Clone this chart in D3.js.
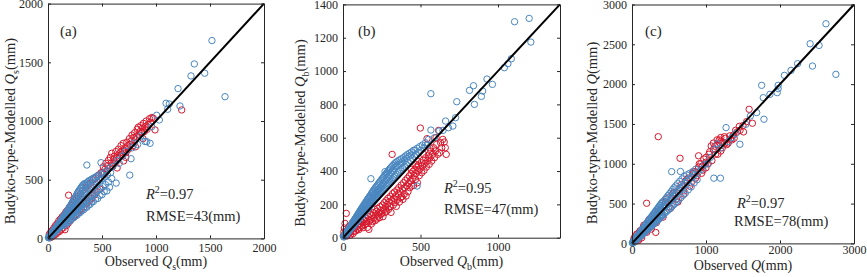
<!DOCTYPE html>
<html>
<head>
<meta charset="utf-8">
<script src="https://cdn.jsdelivr.net/npm/d3@7"></script>
<style>
  body { margin: 0; background: #fff; }
  svg { display: block; }
  text { font-family: "Liberation Serif", "Times New Roman", serif; fill: #262626; }
</style>
</head>
<body>
<svg id="chart" width="867" height="277"></svg>
<script>
// observed vs modelled (mm)
const aRed = [[12,35],[18,5],[26,55],[33,12],[40,70],[47,22],[55,90],[62,30],[70,110],[78,40],[85,125],[92,55],[100,150],[108,60],[115,165],[124,78],[132,185],[140,90],[148,200],[157,74],[165,225],[172,110],[180,240],[188,130],[191,368],[198,265],[206,150],[214,280],[222,170],[230,300],[238,185],[246,320],[255,200],[263,340],[272,215],[280,360],[290,235],[300,380],[310,250],[322,410],[334,270],[346,430],[358,300],[370,455],[382,320],[394,470],[406,345],[418,500],[430,370],[442,515],[455,400],[468,540],[480,420],[492,560],
  [505,560],[512,610],[520,548],[528,590],[536,640],[545,575],[553,620],[560,665],[568,600],[577,690],[585,640],[590,725],[598,615],[606,670],[613,700],[620,640],[628,740],[636,680],[644,705],[652,760],[660,690],[668,730],[676,790],[684,715],[692,750],[697,810],[705,740],[712,770],[722,730],[730,820],[738,790],[746,760],[754,850],[762,800],[770,830],[778,880],[786,790],[794,860],[802,900],[810,840],[818,870],[826,930],[836,947],[844,880],[852,910],[860,960],[868,900],[876,940],[884,980],[892,910],[900,950],[910,1000],[918,930],[928,970],[940,1020],[950,990],[962,1030],[975,1023],[991,924],[1238,1094],
  [640,600],[720,690],[810,780],[880,850],[700,660]];
const aBlue = [[4,6],[7,12],[9,5],[12,16],[14,10],[16,22],[18,13],[21,27],[23,17],[25,31],[27,22],[29,38],[31,25],[33,30],[35,46],[37,31],[39,41],[41,52],[43,35],[45,48],[47,60],[49,40],[51,57],[53,46],[55,70],[57,49],[59,64],[61,78],[63,52],[65,72],[67,60],[69,88],[71,63],[73,79],[75,94],[77,66],[79,86],[81,72],[83,104],[85,74],[87,95],[89,112],[91,80],[93,101],[95,84],[97,122],[99,90],[101,110],[103,130],[105,92],[107,118],[109,100],[111,140],[113,98],[115,126],[117,148],[119,106],[121,133],[123,112],[125,160],[127,114],[129,140],[131,168],[133,118],[135,150],[137,124],[139,178],[141,128],[143,158],[145,190],[147,130],[149,166],[151,136],[153,196],[155,140],[157,172],[159,206],[161,146],[163,180],[165,150],[167,214],[169,152],[171,190],[173,226],[175,158],[177,196],[179,162],[181,236],[183,166],[185,204],[187,246],[189,170],[191,212],[193,176],[195,258],[197,178],[199,220],[201,184],[203,266],[205,226],[207,188],[209,276],[211,192],[213,236],[215,290],[217,196],[219,244],[221,200],[223,300],[225,250],[227,206],[229,312],[231,210],[233,262],[235,322],[237,216],[239,268],[241,218],[243,334],[245,276],[247,226],[249,346],[251,228],[253,284],[255,232],[257,356],[259,292],[261,236],[263,366],[265,300],[267,244],[269,378],[271,306],[273,248],[275,388],[277,314],[279,252],[282,400],[285,320],[288,262],[291,412],[294,330],[297,270],[300,424],[303,340],[306,278],[309,436],[312,350],[315,286],[318,448],[321,360],[324,296],[327,456],[330,368],[333,304],[336,466],[339,380],[342,312],[345,455],[348,390],[351,322],[355,470],[359,398],[360,625],[363,330],[367,482],[371,410],[375,342],[379,490],[383,420],[387,352],[391,496],[395,432],[399,362],[404,504],[409,442],[414,372],[419,512],[424,454],[429,384],[435,520],[441,466],[447,398],[453,530],[459,480],[465,410],[472,540],[479,494],[486,424],[491,645],[493,550],[500,508],[508,440],[516,560],[524,524],[532,458],[540,576],[550,540],[560,480],[570,600],[580,560],[590,510],
  [150,110],[165,122],[180,132],[195,146],[210,156],[225,170],[240,178],[255,192],[270,198],[285,216],[300,222],[315,238],[330,244],[345,262],[360,266],[375,284],[390,290],[405,310],[420,314],[440,336],[460,340],[480,366],[500,372],[520,398],[545,404],[570,436],
  [600,612],[631,471],[640,662],[660,640],[690,702],[720,742],[757,539],[769,679],[780,772],[800,812],[830,800],[860,872],[898,825],[914,824],[945,810],[960,952],[1006,1049],[1031,1009],[1093,1151],[1108,1100],[1123,1145],[1204,1276],[1222,1128],[1324,1384],[1355,1486],[1451,1407],[1518,1685],[1639,1207]];

const bRed = [[2,12],[6,35],[9,58],[13,86],[18,40],[21,146],[25,10],[29,18],[33,48],[37,26],[41,70],[45,30],[49,16],[53,44],[57,60],[61,90],[65,25],[69,38],[73,55],[77,64],[81,40],[85,96],[89,120],[93,52],[97,75],[101,48],[105,84],[109,62],[113,98],[117,140],[121,70],[125,90],[129,60],[133,108],[137,78],[142,106],[146,120],[150,84],[154,98],[158,62],[162,126],[167,50],[171,100],[175,140],[179,110],[183,82],[187,132],[191,96],[195,150],[199,118],[203,170],[207,102],[211,136],[215,158],[219,112],[223,176],[227,130],[231,150],[235,120],[239,186],[243,140],[247,164],[250,146],[254,196],[258,126],[262,168],[266,210],[270,150],[274,186],[278,222],[282,160],[286,200],[290,236],[294,170],[298,214],[302,186],[306,248],[310,152],[314,222],[317,500],[320,264],[324,196],[328,236],[332,274],[336,210],[340,250],[344,188],[348,286],[352,230],[356,262],[360,300],[364,214],[368,276],[372,240],[376,316],[379,246],[383,290],[387,230],[391,330],[395,262],[399,300],[403,344],[407,250],[411,312],[415,356],[419,276],[423,324],[427,370],[431,300],[435,340],[439,384],[443,310],[447,356],[451,398],[456,314],[460,372],[464,410],[468,350],[472,386],[476,424],[480,330],[484,400],[488,436],[492,372],[496,412],[499,658],[503,450],[508,390],[513,430],[518,466],[523,404],[528,446],[533,480],[538,424],[542,594],[546,462],[551,496],[556,440],[561,480],[566,520],[572,460],[578,500],[584,540],[590,480],[597,520],[604,560],[611,500],[617,644],[623,510],[630,570],[637,540],[644,590],[653,574],[660,540],[666,500],[470,440],[440,410],[600,600],[560,540],[520,500],[480,460]];
const bBlue = [[3,8],[6,4],[8,14],[10,9],[12,20],[14,13],[16,24],[18,17],[20,30],[22,21],[24,34],[26,26],[28,40],[30,29],[32,44],[34,36],[36,52],[38,40],[40,56],[42,45],[44,63],[46,49],[48,68],[50,55],[52,74],[54,58],[56,80],[58,64],[60,86],[62,67],[64,92],[66,72],[68,98],[70,77],[72,104],[74,80],[76,110],[78,86],[80,116],[82,90],[84,121],[86,94],[88,128],[90,99],[92,132],[94,103],[96,140],[98,108],[100,146],[102,112],[104,150],[106,118],[108,158],[110,121],[112,162],[114,126],[116,170],[118,130],[120,174],[122,135],[124,180],[126,140],[128,186],[130,142],[132,192],[134,148],[136,196],[138,152],[140,204],[142,158],[144,208],[146,162],[148,214],[150,166],[152,220],[154,170],[156,226],[158,175],[160,232],[162,178],[164,236],[166,184],[168,242],[170,188],[172,248],[174,192],[176,252],[178,196],[180,354],[182,262],[184,204],[186,266],[188,208],[190,274],[192,212],[194,278],[196,218],[198,286],[200,222],[203,292],[206,228],[209,300],[212,236],[215,306],[218,242],[221,314],[224,248],[227,322],[230,256],[233,330],[236,262],[239,336],[242,270],[245,344],[248,276],[251,352],[254,282],[257,358],[260,290],[263,366],[266,296],[269,374],[271,396],[272,302],[275,380],[278,310],[281,388],[284,316],[287,394],[290,324],[293,402],[296,330],[299,410],[302,338],[306,418],[310,346],[314,426],[318,354],[322,434],[326,362],[330,442],[334,370],[338,450],[342,380],[347,456],[352,390],[357,462],[362,400],[367,468],[372,410],[378,474],[384,420],[390,480],[396,430],[402,490],[408,440],[414,498],[420,452],[427,506],[434,464],[441,514],[448,476],[455,524],[462,488],[465,526],[470,500],[478,310],[478,536],[486,512],[494,546],[502,524],[512,556],[522,540],[532,570],[542,556],[552,590],
  [20,25],[30,37],[40,50],[50,62],[60,75],[70,88],[80,100],[90,112],[100,125],[110,138],[120,150],[130,162],[140,175],[150,188],[160,200],[170,212],[180,225],[190,238],[200,250],[210,262],[220,275],[230,288],[240,300],[250,312],[260,325],[270,338],[280,350],[290,362],[300,375],[310,388],[320,400],[330,412],[340,425],[350,432],[365,440],[380,450],[395,462],[410,476],[425,488],[440,496],
  [567,646],[567,864],[590,600],[620,640],[645,644],[662,700],[680,660],[709,670],[726,720],[734,816],[816,884],[842,912],[848,800],[893,848],[901,880],[929,952],[964,920],[1041,1020],[1064,1044],[1086,1074],[1107,1296],[1201,1316],[1212,1174]];

const cRed = [[20,40],[40,20],[60,110],[80,50],[100,140],[120,90],[150,200],[180,150],[198,504],[220,280],[250,210],[288,253],[321,138],[355,1340],[350,400],[400,350],[450,520],[500,460],[550,620],[600,560],[649,1069],[650,700],[700,660],[720,780],[760,820],[800,760],[820,880],[850,900],[880,850],[900,960],[930,1000],[960,920],[1000,1080],[1030,1000],[1050,1150],[1070,1224],[1100,1180],[1130,1120],[1150,1240],[1180,1300],[1200,1160],[1230,1270],[1260,1320],[1300,1260],[1320,1350],[1350,1300],[1400,1420],[1450,1470],[1507,1400],[1583,1684],[1627,1509],
  [30,70],[50,30],[70,120],[90,40],[110,160],[130,70],[160,230],[200,140],[230,300],[260,180],[300,350],[330,260],[380,420],[420,330],[470,560],[520,440],[570,640],[620,520],[670,740],[700,620],[740,800],[780,720],[830,900],[860,820],[910,1000],[940,880],[970,1060],[1000,950],[1040,1120],[1080,1040],[1120,1220],[1160,1120],[1200,1280],[1220,1200],[1250,1340],[1280,1240],[1330,1310],[1370,1360],[1420,1400],[1460,1420],[1500,1480],[1550,1530],[900,1100],[1100,1260],[1150,1300],[1200,1330],[1000,1020],[950,970],[1250,1250],[1380,1320]];
const cBlue = [[5,8],[10,4],[15,22],[20,12],[25,30],[30,20],[35,44],[40,28],[45,52],[50,40],[55,70],[60,46],[65,80],[70,58],[75,96],[80,62],[85,104],[90,74],[95,122],[100,80],[105,130],[110,92],[115,148],[120,98],[125,155],[130,110],[135,172],[140,114],[145,180],[150,126],[155,198],[160,130],[165,206],[170,142],[175,224],[180,146],[185,230],[190,160],[195,250],[200,164],[205,256],[210,176],[215,275],[220,180],[225,282],[230,194],[235,300],[240,198],[245,306],[250,210],[255,326],[260,214],[265,330],[270,228],[275,350],[280,232],[285,356],[290,246],[295,376],[300,250],[305,380],[310,262],[315,400],[320,266],[325,406],[330,280],[335,426],[340,284],[345,430],[350,298],[355,450],[360,302],[365,456],[370,316],[375,476],[380,320],[385,480],[390,334],[395,500],[400,340],[405,506],[410,352],[415,524],[420,356],[430,530],[440,378],[450,556],[460,394],[470,580],[480,412],[490,604],[500,428],[510,626],[520,446],[530,650],[536,901],[540,464],[550,676],[560,482],[570,700],[580,500],[590,720],[600,518],[615,750],[630,546],[645,780],[655,903],[660,574],[675,810],[690,604],[705,840],[720,630],[740,860],[760,672],[780,880],[800,710],[820,900],[840,760],[860,930],[880,800],
  [20,20],[40,42],[60,62],[80,82],[100,104],[120,124],[140,146],[160,166],[180,188],[200,210],[220,230],[240,252],[260,272],[280,294],[300,316],[320,336],[340,358],[360,378],[380,400],[400,420],[420,442],[440,464],[460,484],[480,506],[500,526],[520,548],[540,568],[560,590],[580,610],[600,632],[620,650],[640,670],[660,690],[680,712],[700,730],[720,750],[750,780],[780,810],[810,830],[840,860],
  [900,900],[940,930],[980,990],[1020,1000],[1060,1080],[1106,819],[1195,819],[1120,1180],[1150,1250],[1200,1200],[1271,1454],[1300,1280],[1350,1330],[1400,1380],[1458,1245],[1538,1496],[1600,1600],[1685,1642],[1752,1985],[1774,1830],[1783,1559],[1864,1872],[1962,1893],[1975,1943],[1975,1985],[2060,2110],[2149,2173],[2238,2257],[2407,2507],[2439,2227],[2528,2486],[2621,2758],[2755,2123]];

const aTicks = [0, 500, 1000, 1500, 2000];
const bTicksX = [0, 500, 1000];
const bTicksY = [0, 200, 400, 600, 800, 1000, 1200, 1400];
const cTicks = [0, 1000, 2000, 3000];
const cTicksY = [0, 500, 1000, 1500, 2000, 2500, 3000];

const tags = ["(a)", "(b)", "(c)"];
const subs = ["s", "b", ""];
const r2 = ["0.97", "0.95", "0.97"];
const rmse = ["43", "47", "78"];

const RED = "#d7192e", BLUE = "#4a87c0";

const svg = d3.select("#chart");

const panels = [
  {left: 48, right: 264, top: 3.6, bottom: 238.4, max: 2000, xt: aTicks, yt: aTicks, red: aRed, blue: aBlue, pad: 5,
   tagX: 60, tagY: 36, r2X: 146, r2Y: 199, rmX: 146, rmY: 221, ylX: 15, ylY: 131, xlY: 266},
  {left: 343, right: 560, top: 4.4, bottom: 237.7, max: 1400, xt: bTicksX, yt: bTicksY, red: bRed, blue: bBlue, pad: 5,
   tagX: 358, tagY: 36, r2X: 444, r2Y: 193, rmX: 444, rmY: 214, ylX: 305, ylY: 133, xlY: 266},
  {left: 632, right: 854, top: 4.5, bottom: 243.4, max: 3000, xt: cTicks, yt: cTicksY, red: cRed, blue: cBlue, pad: 2,
   tagX: 645, tagY: 36, r2X: 737, r2Y: 208, rmX: 734, rmY: 226, ylX: 597, ylY: 133, xlY: 270}
];

panels.forEach((p, i) => {
  const x = d3.scaleLinear().domain([0, p.max]).range([p.left, p.right]);
  const y = d3.scaleLinear().domain([0, p.max]).range([p.bottom, p.top]);
  const g = svg.append("g");

  // 점
  const drawPts = (data, col) => g.append("g").selectAll("circle")
    .data(data).join("circle")
    .attr("cx", d => x(d[0]))
    .attr("cy", d => y(d[1]))
    .attr("r", 3.2)
    .style("fill", "none")
    .style("stroke", col)
    .style("stroke-width", 1);
  drawPts(p.red, RED);
  drawPts(p.blue, BLUE);

  // 1:1 line
  g.append("line")
    .attr("x1", x(0)).attr("y1", y(0))
    .attr("x2", x(p.max)).attr("y2", y(p.max))
    .style("stroke", "#000").style("stroke-width", 2);

  // 축 (inward ticks, box)
  const ax = (axis, tx, ty) => {
    const a = g.append("g").attr("transform", `translate(${tx},${ty})`).call(axis);
    a.select(".domain").attr("stroke", "#262626");
    a.selectAll(".tick line").attr("stroke", "#262626");
    a.selectAll("text").attr("font-family", "Liberation Serif").attr("font-size", 12).attr("fill", "#262626");
    return a;
  };
  const fmt = d3.format("d");
  ax(d3.axisBottom(x).tickValues(p.xt).tickFormat(fmt).tickSizeInner(-3).tickSizeOuter(0).tickPadding(p.pad), 0, p.bottom);
  ax(d3.axisLeft(y).tickValues(p.yt).tickFormat(fmt).tickSizeInner(-3).tickSizeOuter(0).tickPadding(5), p.left, 0);
  ax(d3.axisTop(x).tickValues(p.xt).tickSizeInner(-3).tickSizeOuter(0).tickFormat(""), 0, p.top);
  ax(d3.axisRight(y).tickValues(p.yt).tickSizeInner(-3).tickSizeOuter(0).tickFormat(""), p.right, 0);

  // panel tag
  g.append("text").attr("x", p.tagX).attr("y", p.tagY).attr("font-size", 15).text(tags[i]);

  // stats
  const t1 = g.append("text").attr("x", p.r2X).attr("y", p.r2Y).attr("font-size", 14.5);
  t1.append("tspan").style("font-style", "italic").text("R");
  t1.append("tspan").attr("dy", -6).attr("font-size", 10).text("2");
  t1.append("tspan").attr("dy", 6).text("=" + r2[i]);
  g.append("text").attr("x", p.rmX).attr("y", p.rmY).attr("font-size", 14.5).text(`RMSE=${rmse[i]}(mm)`);

  // axis labels
  const lab = (sel) => {
    sel.append("tspan").style("font-style", "italic").text("Q");
    if (subs[i]) {
      sel.append("tspan").attr("dy", 4).attr("font-size", 10).text(subs[i]);
      sel.append("tspan").attr("dy", -4).text("(mm)");
    } else {
      sel.append("tspan").text("(mm)");
    }
  };
  const xl = g.append("text").attr("x", (p.left + p.right) / 2).attr("y", p.xlY)
    .attr("text-anchor", "middle").attr("font-size", 14);
  xl.append("tspan").text("Observed ");
  lab(xl);
  const yl = g.append("text").attr("transform", `translate(${p.ylX},${p.ylY}) rotate(-90)`)
    .attr("text-anchor", "middle").attr("font-size", 14.5);
  yl.append("tspan").text("Budyko-type-Modelled ");
  lab(yl);
});
</script>
</body>
</html>
